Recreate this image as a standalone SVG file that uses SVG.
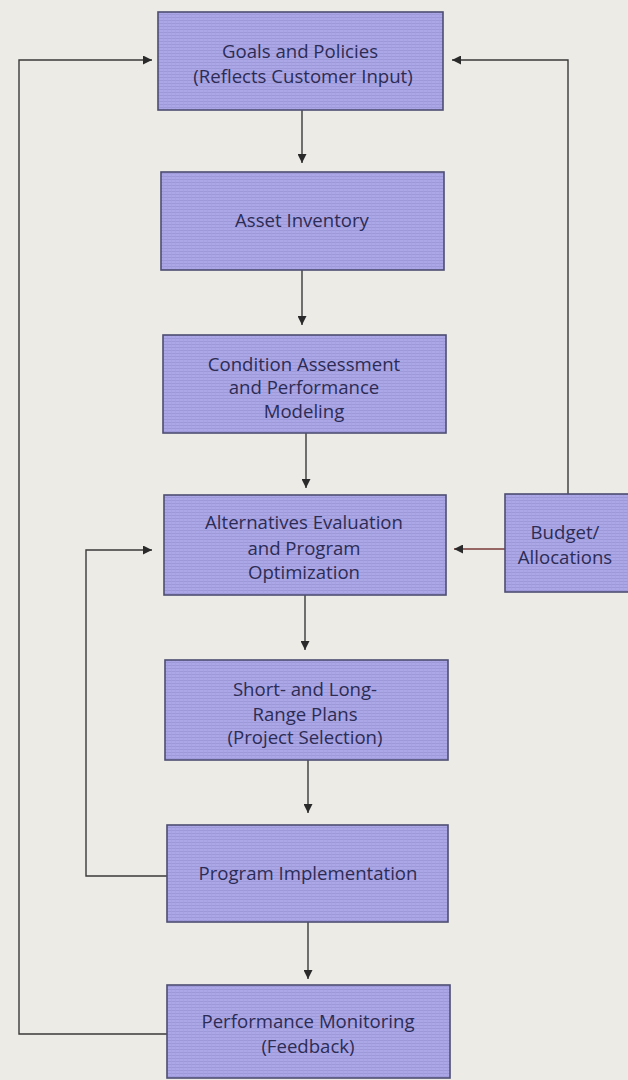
<svg xmlns="http://www.w3.org/2000/svg" width="628" height="1080" viewBox="0 0 628 1080">
<defs>
<pattern id="tex" width="4" height="3" patternUnits="userSpaceOnUse">
<rect width="4" height="3" fill="#aca8e8"/>
<rect y="2" width="4" height="1" fill="#9d98d8"/>
<rect x="3" width="1" height="3" fill="#a39fe0" opacity="0.6"/>
</pattern>
<marker id="ah" viewBox="0 0 10 10" refX="10" refY="5" markerWidth="9" markerHeight="9" markerUnits="userSpaceOnUse" orient="auto">
<path d="M0,0 L10,5 L0,10 z" fill="#2a2a2a"/>
</marker>
<style>
.box{fill:url(#tex);stroke:#4e4e72;stroke-width:1.6}
.t{font-family:"Open Sans","Liberation Sans",Arial,sans-serif;font-size:18.6px;fill:#2c2c55;text-anchor:middle}
.c{fill:none;stroke:#3a3a3a;stroke-width:1.4}
.r{stroke:#7a3a3a}
</style>
</defs>
<rect width="628" height="1080" fill="#ecebe6"/>
<g id="connectors">
<path class="c" d="M302,110 V163" marker-end="url(#ah)"/>
<path class="c" d="M302,270 V325" marker-end="url(#ah)"/>
<path class="c" d="M306,433 V488" marker-end="url(#ah)"/>
<path class="c" d="M305,595 V650" marker-end="url(#ah)"/>
<path class="c" d="M308,760 V813" marker-end="url(#ah)"/>
<path class="c" d="M308,922 V979" marker-end="url(#ah)"/>
<path class="c r" d="M505,549 H454" marker-end="url(#ah)"/>
<path class="c" d="M568,494 V60 H452" marker-end="url(#ah)"/>
<path class="c" d="M167,876 H86 V550 H152" marker-end="url(#ah)"/>
<path class="c" d="M167,1034 H19 V60 H152" marker-end="url(#ah)"/>
</g>
<g id="goals">
<rect class="box" x="158" y="12" width="285" height="98"/>
<text class="t" x="300" y="58">Goals and Policies</text>
<text class="t" x="303" y="83">(Reflects Customer Input)</text>
</g>
<g id="asset">
<rect class="box" x="161" y="172" width="283" height="98"/>
<text class="t" x="302" y="227">Asset Inventory</text>
</g>
<g id="condition">
<rect class="box" x="163" y="335" width="283" height="98"/>
<text class="t" x="304" y="371">Condition Assessment</text>
<text class="t" x="304" y="394">and Performance</text>
<text class="t" x="304" y="418">Modeling</text>
</g>
<g id="alternatives">
<rect class="box" x="164" y="495" width="282" height="100"/>
<text class="t" x="304" y="529">Alternatives Evaluation</text>
<text class="t" x="304" y="555">and Program</text>
<text class="t" x="304" y="579">Optimization</text>
</g>
<g id="budget">
<rect class="box" x="505" y="494" width="130" height="98"/>
<text class="t" x="565" y="539">Budget/</text>
<text class="t" x="565" y="564">Allocations</text>
</g>
<g id="plans">
<rect class="box" x="165" y="660" width="283" height="100"/>
<text class="t" x="305" y="696">Short- and Long-</text>
<text class="t" x="305" y="721">Range Plans</text>
<text class="t" x="305" y="744">(Project Selection)</text>
</g>
<g id="implementation">
<rect class="box" x="167" y="825" width="281" height="97"/>
<text class="t" x="308" y="880">Program Implementation</text>
</g>
<g id="monitoring">
<rect class="box" x="167" y="985" width="283" height="93"/>
<text class="t" x="308" y="1028">Performance Monitoring</text>
<text class="t" x="308" y="1053">(Feedback)</text>
</g>
</svg>
